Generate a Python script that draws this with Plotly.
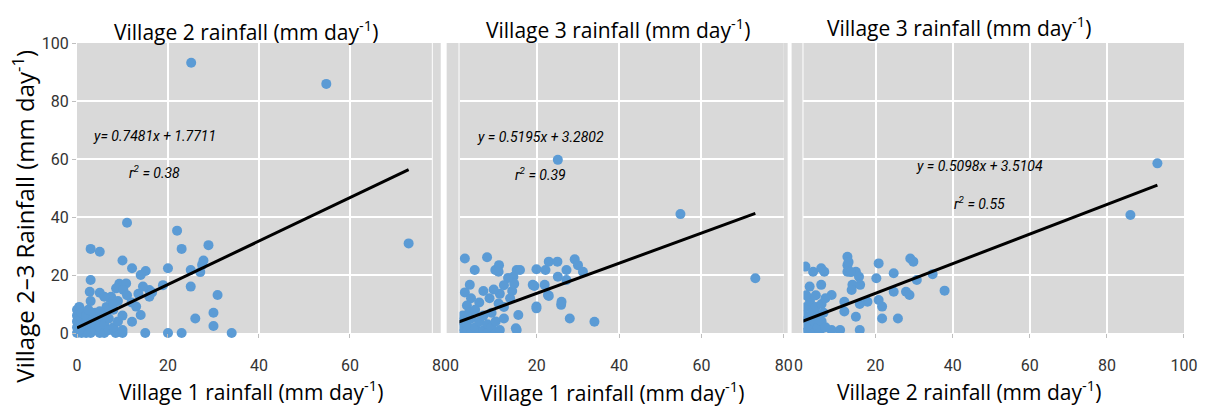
import plotly.graph_objects as go

# ---------------- data ----------------
# Panel 1: Village 1 (x) vs Village 2 (y)
p1_x = [25.1, 54.8, 72.9,
        11, 22, 3, 5, 23, 28.9, 10, 12.1, 20, 25, 27.8, 27.1, 27.5, 15.1, 14, 3, 18.9, 25,
        9.3, 10.8, 8.6, 10.2, 15.9, 15.9, 2.8, 5, 7.5, 11, 12, 13, 14, 12.1, 30.9, 30, 30,
        26, 15, 20, 23, 34, 10, 8.5, 7.2, 6, 13.5, 16.5, 14.5,
        0, 0, 0, 0, 0, 0.5, 1, 1, 1, 1.5, 2, 2, 2, 3, 3, 3.5, 4, 4, 5, 5, 5, 6, 6, 6, 7, 7,
        8, 8, 9, 9, 10, 10, 1, 0.5, 4, 2.5, 6.5, 3, 8, 5]
p1_y = [93.2, 85.9, 30.9,
        38, 35.3, 29, 28, 29, 30.3, 25, 22.3, 22.3, 21.7, 25, 21, 23.5, 21.4, 20, 18.3, 16.5, 16,
        17, 17.1, 15.4, 14.8, 14.8, 12.5, 14.2, 13.9, 12.5, 13, 10.5, 9.1, 6.2, 3.9, 13.1, 7, 2.4,
        5, 0, 0, 0, 0, 0, 0, 12, 12.5, 13.5, 14, 16,
        0, 2, 4, 6, 8, 9, 3, 5, 7, 1, 0, 4, 6, 2, 0, 5, 1, 3, 0, 2, 4, 0, 6, 3, 1, 5,
        2, 8, 4, 11, 6, 1, 0, 1, 7, 8, 9, 11, 10, 7.5]

# Panel 2: Village 1 (x) vs Village 3 (y)
p2_x = [25.1, 54.9, 73.1,
        2.5, 7.9, 4.9, 9.9, 10.8, 3.7, 15.1, 15.9, 14.3, 19.9, 22.1, 22.9, 25, 27.2, 29.2, 30, 31.2,
        25.1, 27.2, 19, 22.9, 19.9, 25.9, 28, 34, 15.1,
        10.7, 19.4, 21.9, 22.7, 19.9, 15.5, 14.9, 10.7, 26,
        13.5, 14, 14.5, 13, 12, 11, 12, 9.5, 8.5,
        2.5, 4, 6, 7, 3,
        2, 2, 2, 2, 3, 3, 3.5, 4, 4, 5, 5, 6, 6, 7, 7, 8, 8, 9, 9, 10, 10, 11, 12]
p2_y = [59.7, 41, 18.9,
        25.7, 26.1, 21.7, 21.7, 23.4, 16.6, 21.7, 21.7, 19.4, 22, 21.7, 24.6, 24.6, 21.7, 25.4, 23.4, 21.1,
        19.4, 18.3, 16.6, 12.8, 9.1, 9.7, 5, 3.9, 1,
        21.1, 16.2, 16.6, 13.1, 8.5, 6.2, 1.6, 10.2, 10.8,
        12, 14.5, 17, 19, 16.5, 13.5, 9, 15, 12,
        14, 12, 10.5, 14.5, 9.5,
        0, 2, 4, 6, 1, 3, 7, 0, 5, 2, 8, 0, 4, 1, 6, 3, 0, 2, 7, 4, 0, 1, 5]

# Panel 3: Village 2 (x) vs Village 3 (y)
p3_x = [93.1, 86.1,
        1.8, 3.8, 5.9, 6.7, 2.9, 5.9, 12.7, 12.7, 12.7, 14.9, 15.7, 14, 16, 13.8, 8.6, 17.9, 15.9,
        11.9, 11.9, 14.9, 20.8, 20.2, 24.7, 24.7, 29, 29.8, 30.7, 27.9, 28.8, 34.8, 37.9, 20.8,
        21.7, 21.7, 25.8, 8.6, 10.8, 15.9, 13, 13.6,
        1.5, 1.5, 1.5, 2, 2.5, 2.5, 3, 3, 3.5, 4, 4, 4.5, 5, 5, 5.5, 6, 6, 6.5, 7, 7, 2, 4.5]
p3_y = [58.5, 40.7,
        22.9, 21.1, 22.3, 21.1, 16, 16.6, 26.3, 23.4, 21.1, 21.1, 19.4, 16.6, 16.6, 14.8, 13.1, 10.8, 10,
        10.8, 7.4, 5.6, 24, 18.9, 20.6, 14.2, 25.7, 24.6, 18.3, 14.2, 13.1, 20.3, 14.6, 11.4,
        9.1, 5, 5, 1, 1, 1, 24.5, 21,
        0, 3, 6, 9, 1, 5, 2, 11, 7, 0, 4, 9, 2, 6, 0, 4, 10, 7, 2, 12, 13, 13]

# Fitted regressions as printed on the chart
fit_slope = [0.7481, 0.5195, 0.5098]
fit_intercept = [1.7711, 3.2802, 3.5104]
fit_eq_text = ["y= 0.7481x + 1.7711", "y = 0.5195x + 3.2802", "y = 0.5098x + 3.5104"]
fit_r2_text = ["r<sup>2</sup> = 0.38", "r<sup>2</sup> = 0.39", "r<sup>2</sup> = 0.55"]

top_titles = ["Village 2 rainfall (mm day<sup>-1</sup>)",
              "Village 3 rainfall (mm day<sup>-1</sup>)",
              "Village 3 rainfall (mm day<sup>-1</sup>)"]
bottom_titles = ["Village 1 rainfall (mm day<sup>-1</sup>)",
                 "Village 1 rainfall (mm day<sup>-1</sup>)",
                 "Village 2 rainfall (mm day<sup>-1</sup>)"]
y_title = "Village 2\u20133 Rainfall (mm day<sup>-1</sup>)"

x_ticks_12 = [0, 20, 40, 60, 80]
x_ticks_3 = [0, 20, 40, 60, 80, 100]
y_ticks = [0, 20, 40, 60, 80, 100]

# ---------------- layout geometry ----------------
W, H = 1208, 409
ML, MR, MT, MB = 77, 11, 43, 76
PW, PH = W - ML - MR, H - MT - MB

def pxx(p):
    return (p - ML) / PW

def pxy(p):
    return (H - MB - p) / PH

domains = [[pxx(77), pxx(436)], [pxx(464), pxx(792)], [pxx(812), pxx(1197)]]
ranges = [[0, 78], [1.2, 80], [1.3, 100]]
eq_pos = [(17, 68, 55.5), (21, 67.6, 55), (47, 57.6, 44.8)]

BLUE = "#5b9bd5"
BG = "#d9d9d9"
TITLE_FONT = "'Open Sans', Lato, sans-serif"
NARROW = "'Liberation Sans Narrow', 'Roboto', sans-serif"
TICK_FONT = dict(family=NARROW, size=16, color="#333333")
EQ_FONT = dict(family=NARROW, size=14, color="black")

fig = go.Figure()
data = [(p1_x, p1_y), (p2_x, p2_y), (p3_x, p3_y)]
for i, (xs, ys) in enumerate(data):
    xa = "x" if i == 0 else f"x{i+1}"
    ya = "y" if i == 0 else f"y{i+1}"
    fig.add_trace(go.Scatter(x=xs, y=ys, mode="markers", xaxis=xa, yaxis=ya,
                             marker=dict(color=BLUE, size=10, line=dict(width=0)),
                             cliponaxis=(i != 0), showlegend=False))
    x_end = max(xs)
    fig.add_trace(go.Scatter(x=[0, x_end],
                             y=[fit_intercept[i], fit_slope[i] * x_end + fit_intercept[i]],
                             mode="lines", xaxis=xa, yaxis=ya,
                             line=dict(color="black", width=3), showlegend=False))

layout = dict(width=W, height=H, margin=dict(l=ML, r=MR, t=MT, b=MB),
              paper_bgcolor="white", plot_bgcolor=BG, showlegend=False)

for i in range(3):
    key = "xaxis" if i == 0 else f"xaxis{i+1}"
    ykey = "yaxis" if i == 0 else f"yaxis{i+1}"
    anchor_y = "y" if i == 0 else f"y{i+1}"
    anchor_x = "x" if i == 0 else f"x{i+1}"
    layout[key] = dict(domain=domains[i], range=ranges[i], anchor=anchor_y,
                       tickvals=x_ticks_3 if i == 2 else x_ticks_12,
                       showgrid=True, gridcolor="white", gridwidth=2, zeroline=False,
                       showline=False, ticks="outside", ticklen=4, tickcolor="#bfbfbf",
                       tickfont=TICK_FONT, ticklabelstandoff=14)
    layout[ykey] = dict(domain=[0, 1], range=[0, 100], anchor=anchor_x,
                        tickvals=y_ticks, showgrid=True, gridcolor="white", gridwidth=2,
                        zeroline=False, showline=False, showticklabels=(i == 0),
                        ticks="outside" if i == 0 else "", ticklen=4, tickcolor="#bfbfbf",
                        tickfont=TICK_FONT, ticklabelstandoff=0)
fig.update_layout(**layout)

ann = []
# tick labels that fall just outside the cropped ranges
def data_to_paper(i, v):
    d0, d1 = domains[i]
    r0, r1 = ranges[i]
    return d0 + (v - r0) / (r1 - r0) * (d1 - d0)

for i, v in [(0, 80), (1, 0), (2, 0)]:
    ann.append(dict(text=str(v), x=data_to_paper(i, v), y=0, xref="paper", yref="paper",
                    xanchor="center", yanchor="top", yshift=-21, showarrow=False,
                    font=TICK_FONT))

top_pos = [(248, 30), (624, 28), (969, 27)]
bot_pos = [(253, 390), (618, 391), (979, 390)]
for i in range(3):
    ann.append(dict(text=top_titles[i], x=pxx(top_pos[i][0]), y=pxy(top_pos[i][1]),
                    xref="paper", yref="paper", xanchor="center", yanchor="middle",
                    showarrow=False, font=dict(family=TITLE_FONT, size=21, color="black")))
    ann.append(dict(text=bottom_titles[i], x=pxx(bot_pos[i][0]), y=pxy(bot_pos[i][1]),
                    xref="paper", yref="paper", xanchor="center", yanchor="middle",
                    showarrow=False, font=dict(family=TITLE_FONT, size=21, color="black")))
    xa = "x" if i == 0 else f"x{i+1}"
    ya = "y" if i == 0 else f"y{i+1}"
    ex, ey, ry = eq_pos[i]
    ann.append(dict(text=f"<i>{fit_eq_text[i]}</i>", x=ex, y=ey, xref=xa, yref=ya,
                    xanchor="center", yanchor="middle", showarrow=False, font=EQ_FONT))
    ann.append(dict(text=f"<i>{fit_r2_text[i]}</i>", x=ex, y=ry, xref=xa, yref=ya,
                    xanchor="center", yanchor="middle", showarrow=False, font=EQ_FONT))

ann.append(dict(text=y_title, x=pxx(22), y=pxy(216), xref="paper", yref="paper",
                xanchor="center", yanchor="middle", textangle=-90, showarrow=False,
                font=dict(family=TITLE_FONT, size=24, color="black")))
fig.update_layout(annotations=ann)

# gray strips between the cropped panels
shapes = []
for a, b in [(437, 445), (451, 463), (792, 796), (800, 811)]:
    shapes.append(dict(type="rect", xref="paper", yref="paper", x0=pxx(a), x1=pxx(b),
                       y0=0, y1=1, fillcolor=BG, line=dict(width=0), layer="below"))
fig.update_layout(shapes=shapes)

fig.write_html("out.html")
